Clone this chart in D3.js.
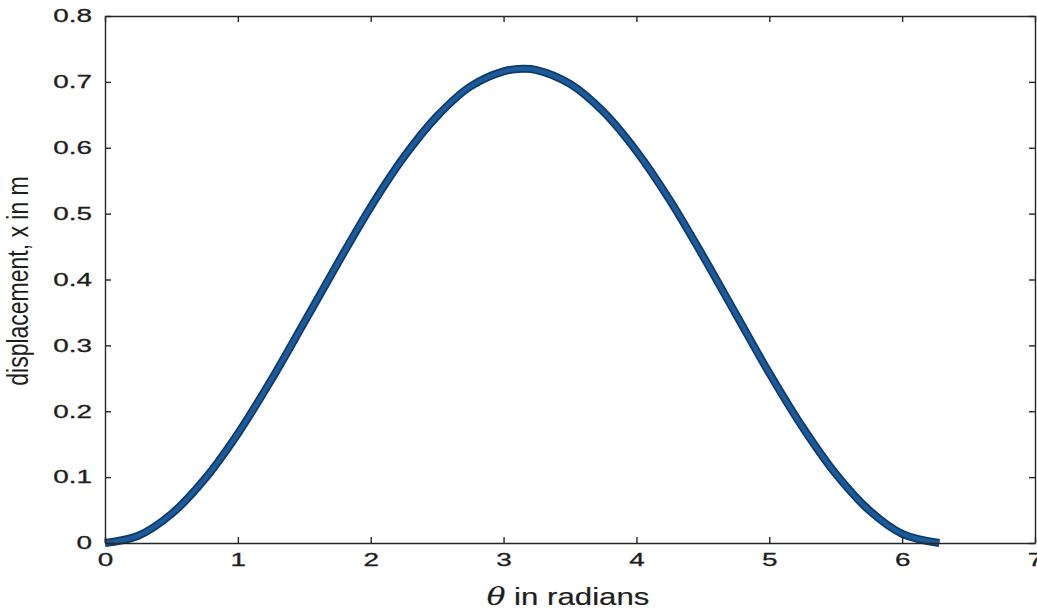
<!DOCTYPE html>
<html>
<head>
<meta charset="utf-8">
<script src="https://d3js.org/d3.v7.min.js"></script>
<style>
  html, body { margin: 0; padding: 0; background: #fff; }
  svg { display: block; }
  text { font-family: "Liberation Sans", Arial, Helvetica, sans-serif; fill: #1e1e1e; }
</style>
</head>
<body>
<script>
// Displacement of the follower against cam angle (one full revolution)
const thetaValues = [0, 0.25, 0.5, 0.75, 1.0, 1.25, 1.5, 1.75, 2.0, 2.25, 2.5, 2.75, 3.0, 3.14,
                     3.25, 3.5, 3.75, 4.0, 4.25, 4.5, 4.75, 5.0, 5.25, 5.5, 5.75, 6.0, 6.28];
const displacementValues = [0, 0.011, 0.044, 0.097, 0.166, 0.247, 0.335, 0.424, 0.510, 0.586, 0.648,
                            0.693, 0.716, 0.720, 0.718, 0.697, 0.655, 0.595, 0.521, 0.436, 0.347,
                            0.258, 0.176, 0.105, 0.050, 0.014, 0];

const xTicks = [0, 1, 2, 3, 4, 5, 6, 7];
const yTicks = [0, 0.1, 0.2, 0.3, 0.4, 0.5, 0.6, 0.7, 0.8];
const yTickLabels = ["0", "0.1", "0.2", "0.3", "0.4", "0.5", "0.6", "0.7", "0.8"];

(function () {
  const W = 1037, H = 615;
  const plotLeft = 105, plotRight = 1035, plotTop = 16, plotBottom = 543;
  const sx = 1.55; // horizontal stretch of tick lettering

  const svg = d3.select("body").append("svg").attr("width", W).attr("height", H);
  svg.append("rect").attr("width", W).attr("height", H).attr("fill", "#fff");

  const x = d3.scaleLinear().domain([0, 7]).range([plotLeft, plotRight]);
  const y = d3.scaleLinear().domain([0, 0.8]).range([plotBottom, plotTop]);

  // curve
  const pts = thetaValues.map((t, i) => [t, displacementValues[i]]);
  const line = d3.line().x(d => x(d[0])).y(d => y(d[1])).curve(d3.curveCatmullRom.alpha(0.5));
  svg.append("path").datum(pts)
    .attr("d", line)
    .attr("fill", "none")
    .attr("stroke", "#0e3a6b")
    .attr("stroke-width", 8)
    .attr("stroke-linejoin", "round");
  svg.append("path").datum(pts)
    .attr("d", line)
    .attr("fill", "none")
    .attr("stroke", "#1d5a9a")
    .attr("stroke-width", 4.5)
    .attr("stroke-linejoin", "round");

  // axes
  function styleAxis(g) {
    g.select(".domain").attr("stroke", "#262626").attr("stroke-width", 1.4);
    g.selectAll(".tick line").attr("stroke", "#262626").attr("stroke-width", 1.4);
  }
  function styleText(sel, w) {
    sel.style("fill", "#1e1e1e").attr("stroke", "#1e1e1e").attr("stroke-width", w);
  }

  const gx = svg.append("g").attr("transform", `translate(0,${plotBottom})`)
    .call(d3.axisBottom(x).tickValues(xTicks).tickFormat(d3.format("d"))
          .tickSizeInner(-6).tickSizeOuter(0).tickPadding(10));
  styleAxis(gx);
  gx.selectAll("text").attr("font-size", 18).attr("dy", "0.71em")
    .attr("transform", `scale(${sx},1)`).call(styleText, 0.3);

  const gy = svg.append("g").attr("transform", `translate(${plotLeft},0)`)
    .call(d3.axisLeft(y).tickValues(yTicks).tickFormat((d, i) => yTickLabels[i])
          .tickSizeInner(-6).tickSizeOuter(0).tickPadding(13));
  styleAxis(gy);
  gy.selectAll("text").attr("font-size", 18)
    .attr("x", -13 / sx)
    .attr("transform", `scale(${sx},1)`).call(styleText, 0.3);

  const gt = svg.append("g").attr("transform", `translate(0,${plotTop})`)
    .call(d3.axisTop(x).tickValues(xTicks).tickFormat("").tickSizeInner(-6).tickSizeOuter(0));
  styleAxis(gt);

  const gr = svg.append("g").attr("transform", `translate(${plotRight},0)`)
    .call(d3.axisRight(y).tickValues(yTicks).tickFormat("").tickSizeInner(-6).tickSizeOuter(0));
  styleAxis(gr);

  // axis titles
  const xl = svg.append("text")
    .attr("transform", `translate(568,605) scale(1.3,1)`)
    .attr("text-anchor", "middle")
    .attr("font-size", 24)
    .call(styleText, 0.2);
  xl.append("tspan").attr("font-style", "italic").attr("font-family", "\"DejaVu Serif\", serif").text("θ");
  xl.append("tspan").text(" in radians");

  svg.append("text")
    .attr("transform", `translate(28,281) scale(1.25,1) rotate(-90)`)
    .attr("text-anchor", "middle")
    .attr("font-size", 23)
    .call(styleText, 0)
    .text("displacement, x in m");
})();
</script>
</body>
</html>
